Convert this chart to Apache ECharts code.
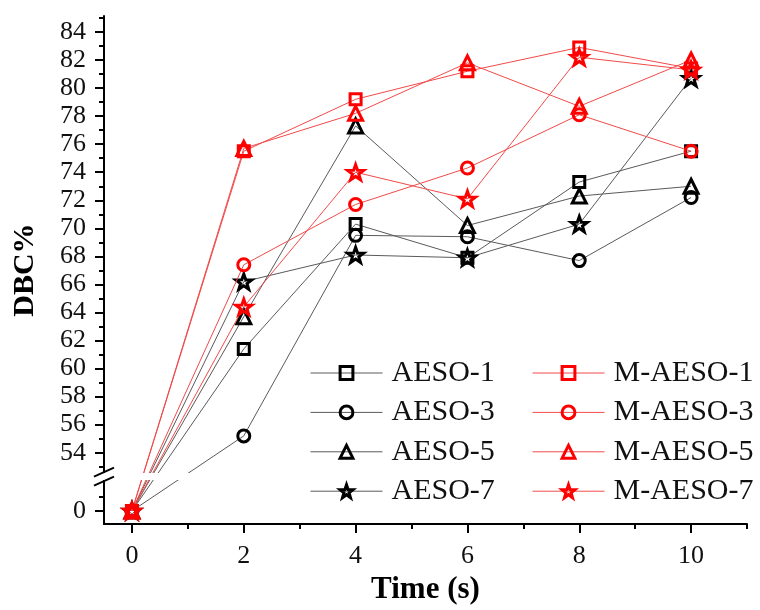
<!DOCTYPE html>
<html>
<head>
<meta charset="utf-8">
<script src="https://cdn.jsdelivr.net/npm/echarts@6/dist/echarts.min.js"></script>
<style>
html,body{margin:0;padding:0;background:#fff;}
#chart{width:760px;height:610px;}
</style>
</head>
<body>
<div id="chart"></div>
<script>
// ---- data ----
var times = [0, 2, 4, 6, 8, 10];
var AESO_1 = [0, 61.4, 70.3, 67.9, 73.3, 75.5];
var AESO_3 = [0, 55.2, 69.5, 69.4, 67.7, 72.2];
var AESO_5 = [0, 63.7, 77.3, 70.2, 72.3, 73.0];
var AESO_7 = [0, 66.2, 68.1, 67.9, 70.3, 80.7];
var M_AESO_1 = [0, 75.5, 79.2, 81.2, 82.9, 81.4];
var M_AESO_3 = [0, 67.4, 71.7, 74.3, 78.1, 75.5];
var M_AESO_5 = [0, 75.7, 78.2, 81.8, 78.7, 82.0];
var M_AESO_7 = [0, 64.4, 74.0, 72.1, 82.2, 81.3];
var xTickLabels = [0, 2, 4, 6, 8, 10];
var yTickLabels = [0, 54, 56, 58, 60, 62, 64, 66, 68, 70, 72, 74, 76, 78, 80, 82, 84];

// broken axis: the value 0 is drawn just below the 54..84 segment
var ZERO_POS = 49.85;
function toAxis(v) { return v < 50 ? ZERO_POS + v : v; }

var yMajor = yTickLabels.map(toAxis);
var yMinor = [ZERO_POS + 1];
for (var m = 53; m <= 85; m += 2) yMinor.push(m);
var xMinor = [1, 3, 5, 7, 9, 11];

var STAR = 'path://M0,-10 L2.35,-3.24 L9.51,-3.09 L3.8,1.24 L5.88,8.09 L0,4 L-5.88,8.09 L-3.8,1.24 L-9.51,-3.09 L-2.35,-3.24 Z';
var FONT = 'Liberation Serif';

function mk(name, arr, symbol, size, red) {
  return {
    name: name,
    type: 'line',
    data: times.map(function (t, i) { return [t, toAxis(arr[i])]; }),
    symbol: symbol,
    symbolSize: size,
    symbolKeepAspect: true,
    showAllSymbol: true,
    lineStyle: { color: red ? '#f24a4a' : '#5a5a5a', width: 1 },
    itemStyle: { color: 'rgba(255,255,255,0)', borderColor: red ? '#ff0000' : '#000000', borderWidth: 3 },
    emphasis: { disabled: true },
    z: red ? 3 : 2
  };
}

var series = [
  mk('AESO-1', AESO_1, 'rect', 11, false),
  mk('AESO-3', AESO_3, 'circle', 12, false),
  mk('AESO-5', AESO_5, 'triangle', 14, false),
  mk('AESO-7', AESO_7, STAR, 16, false),
  mk('M-AESO-1', M_AESO_1, 'rect', 11, true),
  mk('M-AESO-3', M_AESO_3, 'circle', 12, true),
  mk('M-AESO-5', M_AESO_5, 'triangle', 14, true),
  mk('M-AESO-7', M_AESO_7, STAR, 16, true)
];

var legendBase = {
  orient: 'vertical',
  itemWidth: 72,
  itemHeight: 16,
  itemGap: 9.4,
  itemStyle: { borderWidth: 3 },
  lineStyle: { width: 1 },
  textStyle: { fontFamily: FONT, fontSize: 30, color: '#111', lineHeight: 30, padding: [0, 0, 0, 4] },
  selectedMode: false
};

var chart = echarts.init(document.getElementById('chart'), null, { renderer: 'canvas' });
var option = {
  animation: false,
  backgroundColor: '#ffffff',
  grid: { left: 104, right: 13, top: 16, bottom: 74.3, containLabel: false },
  legend: [
    Object.assign({}, legendBase, { left: 305, top: 353, data: ['AESO-1', 'AESO-3', 'AESO-5', 'AESO-7'] }),
    Object.assign({}, legendBase, { left: 527, top: 353, data: ['M-AESO-1', 'M-AESO-3', 'M-AESO-5', 'M-AESO-7'] })
  ],
  xAxis: [
    {
      type: 'value', min: -0.5, max: 11,
      axisLine: { show: true, onZero: false, lineStyle: { color: '#000', width: 2 } },
      axisTick: { show: true, inside: false, length: 9, customValues: xTickLabels, lineStyle: { color: '#000', width: 2 } },
      axisLabel: { customValues: xTickLabels, fontFamily: FONT, fontSize: 26, color: '#111', margin: 19 },
      splitLine: { show: false },
      name: 'Time (s)', nameLocation: 'middle', nameGap: 39,
      nameTextStyle: { fontFamily: FONT, fontSize: 31, fontWeight: 'bold', color: '#000' }
    },
    {
      type: 'value', min: -0.5, max: 11, position: 'bottom',
      axisLine: { show: false, onZero: false },
      axisTick: { show: true, inside: false, length: 5, customValues: xMinor, lineStyle: { color: '#000', width: 2 } },
      axisLabel: { show: false },
      splitLine: { show: false }
    }
  ],
  yAxis: [
    {
      type: 'value', min: 48.91, max: 85.14,
      axisLine: { show: true, onZero: false, lineStyle: { color: '#000', width: 2 } },
      axisTick: { show: true, inside: false, length: 9, customValues: yMajor, lineStyle: { color: '#000', width: 2 } },
      axisLabel: {
        customValues: yMajor, fontFamily: FONT, fontSize: 26, color: '#111', margin: 18,
        formatter: function (v) { return v < 50 ? '0' : String(Math.round(v)); }
      },
      splitLine: { show: false },
      name: 'DBC%', nameLocation: 'middle', nameGap: 64, nameRotate: 90,
      nameTextStyle: { fontFamily: FONT, fontSize: 30, fontWeight: 'bold', color: '#000' }
    },
    {
      type: 'value', min: 48.91, max: 85.14, position: 'left',
      axisLine: { show: false, onZero: false },
      axisTick: { show: true, inside: false, length: 5, customValues: yMinor, lineStyle: { color: '#000', width: 2 } },
      axisLabel: { show: false },
      splitLine: { show: false }
    }
  ],
  series: series
};
chart.setOption(option);

// axis break decoration
var pTop = chart.convertToPixel({ gridIndex: 0 }, [-0.5, 52.62]);
var pBot = chart.convertToPixel({ gridIndex: 0 }, [-0.5, 51.98]);
var pRight = chart.convertToPixel({ gridIndex: 0 }, [1.8, 52]);
var ax = pTop[0];
chart.setOption({
  graphic: [
    { type: 'rect', z: 100, shape: { x: ax - 4, y: pTop[1] + 1, width: pRight[0] - ax + 4, height: pBot[1] - pTop[1] - 2 }, style: { fill: '#fff' } },
    { type: 'line', z: 101, shape: { x1: ax - 10, y1: pTop[1] + 4.5, x2: ax + 10, y2: pTop[1] - 4.5 }, style: { stroke: '#000', lineWidth: 2 } },
    { type: 'line', z: 101, shape: { x1: ax - 10, y1: pBot[1] + 4.5, x2: ax + 10, y2: pBot[1] - 4.5 }, style: { stroke: '#000', lineWidth: 2 } }
  ]
});
</script>
</body>
</html>
